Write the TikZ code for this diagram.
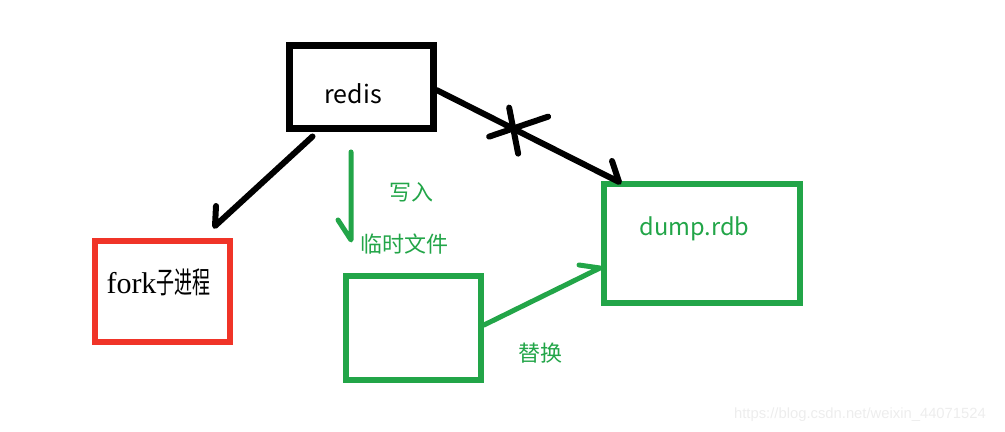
\documentclass[tikz,border=0pt]{standalone}
\usepackage{fontspec}
\setmainfont{Noto Sans CJK SC}
\newfontfamily\forkfont{Liberation Serif}
\newfontfamily\markfont{Liberation Sans}
\usetikzlibrary{calc}
\definecolor{paintgreen}{RGB}{34,165,72}
\definecolor{paintred}{RGB}{240,52,40}

\begin{document}
\begin{tikzpicture}[x=0.5pt, y=-0.5pt,
        box/.style={draw, line width=3pt, inner sep=0pt},
        lbl/.style={inner sep=0pt, font=\fontsize{12.5}{14}\selectfont},
        cn/.style={inner sep=0pt, text=paintgreen, font=\fontsize{11}{13}\selectfont},
        karr/.style={line width=3pt, line cap=round, line join=round},
        garr/.style={line width=2.5pt, paintgreen, line cap=round, line join=round}]
    \useasboundingbox (0,0) rectangle (1005,432);
    % boxes
    \node[box, line width=3.5pt, minimum width=72pt, minimum height=41.5pt] (redis) at (361,87.5) {};
    \node[box, paintred, minimum width=67.5pt, minimum height=50.5pt] (fork) at (162.5,291.5) {};
    \node[box, paintgreen, minimum width=67.5pt, minimum height=52pt] (temp) at (413.5,328) {};
    \node[box, paintgreen, minimum width=98pt, minimum height=59.5pt] (dump) at (702,243.5) {};
    % texts
    \node[lbl, anchor=base] (redislbl) at (353,104) {redis};
    \node[lbl, anchor=base, text=paintgreen, font=\fontsize{11.8}{14}\selectfont] (dumplbl) at (694.5,236) {dump.rdb};
    \node[inner sep=0pt, anchor=base] (forklbl) at (158.5,293)
        {\fontsize{15}{17}\selectfont\forkfont fork\rmfamily\scalebox{0.6}[1]{子进程}};
    \node[cn] (writelbl) at (411.5,192) {写入};
    \node[cn] (templbl) at (404,244) {临时文件};
    \node[cn] (replacelbl) at (540,353) {替换};
    \node[inner sep=0pt, text=black!7, font=\markfont\fontsize{7.4}{9}\selectfont] (mark) at (860,415)
        {https://blog.csdn.net/weixin\_44071524};
    % free ends
    \coordinate (forktip) at (215,226);
    \coordinate (writetop) at (351,152);
    \coordinate (writetip) at (351,240);
    % connectors
    \draw[karr] ([xshift=13.5pt,yshift=-2pt]redis.south west) -- (forktip) -- ++(1,-20);
    \draw[karr] ([yshift=-1.25pt]redis.east) -- coordinate[pos=0.42] (cut)
        ([xshift=9pt,yshift=-0.5pt]dump.north west) -- ++(-7,-21);
    \draw[karr] (cut) ++(-4,-21) -- ++(9,46);
    \draw[karr] (cut) ++(-24,8) -- ++(59,-20);
    \draw[garr] (writetop) -- (writetip) -- ++(-13,-20);
    \draw[garr] ([yshift=1.5pt]temp.east) -- ([xshift=-0.5pt,yshift=-12.25pt]dump.west) -- ++(-21,-3);
\end{tikzpicture}
\end{document}
